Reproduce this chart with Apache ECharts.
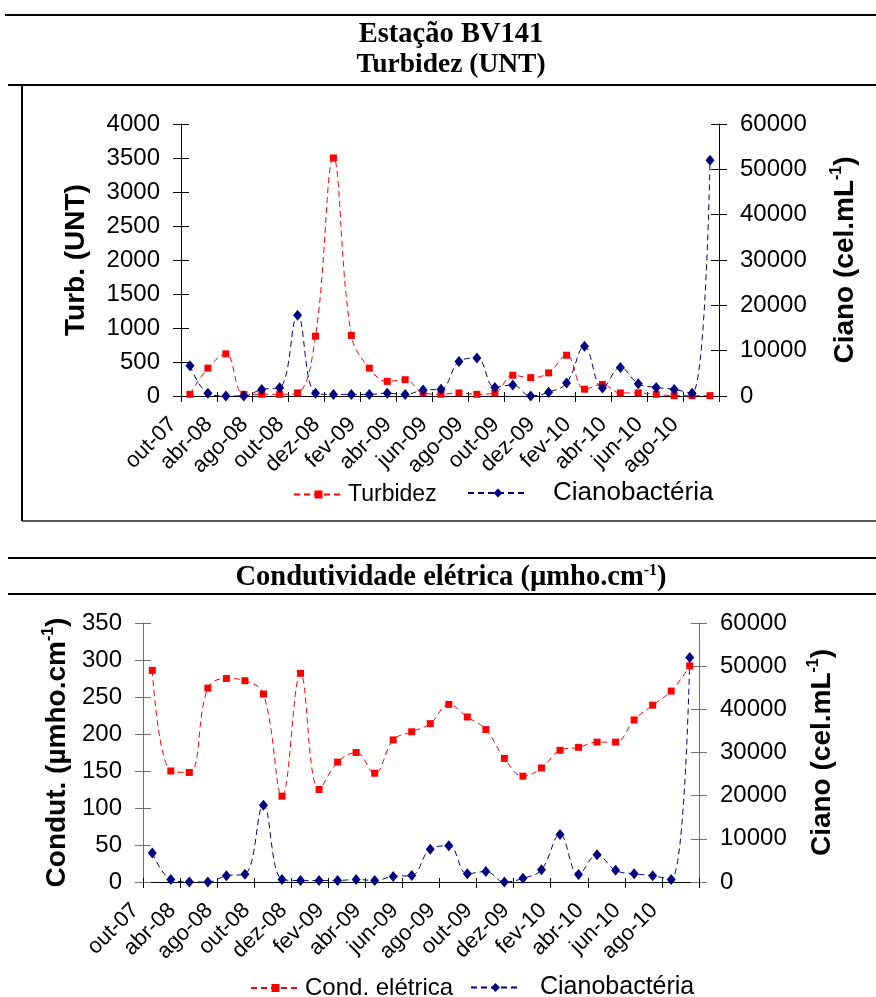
<!DOCTYPE html>
<html>
<head>
<meta charset="utf-8">
<script src="https://cdn.jsdelivr.net/npm/echarts@6/dist/echarts.min.js"></script>
<style>
  html, body { margin: 0; padding: 0; background: #fff; }
  #chart { width: 876px; height: 997px; }
</style>
</head>
<body>
<div id="chart"></div>
<script>
// Sampling months (monthly from out-08 onwards)
const categories = ['out-07','fev-08','abr-08','jun-08','ago-08','set-08','out-08','nov-08','dez-08','jan-09',
  'fev-09','mar-09','abr-09','mai-09','jun-09','jul-09','ago-09','set-09','out-09','nov-09',
  'dez-09','jan-10','fev-10','mar-10','abr-10','mai-10','jun-10','jul-10','ago-10','set-10'];

// Turbidez (UNT)
const turbidez = [25, 410, 620, 25, 25, 25, 45, 880, 3500, 890, 410, 215, 240, 45, 25, 45, 25, 45, 305, 270,
  340, 600, 100, 170, 45, 45, 25, 5, 5, 5];

// Condutividade elétrica (µmho.cm-1)
const condutividade = [286, 150, 148, 262, 275, 272, 254, 116, 282, 125, 162, 175, 147, 192, 203, 214, 240, 223, 206, 167,
  143, 154, 178, 182, 189, 189, 219, 239, 258, 292];

// Cianobactérias (cel.mL-1)
const cianobacteria = [6700, 600, 0, 0, 1450, 1800, 17800, 600, 350, 350, 350, 600, 350, 1300, 1500, 7600, 8400, 1900, 2450, 0,
  850, 2850, 11000, 1750, 6300, 2700, 1900, 1450, 600, 52000];

const SANS = '"Liberation Sans", Arial, sans-serif';
const SERIF = '"Liberation Serif", "Times New Roman", serif';
const RED = '#FF0000';
const NAVY = '#000080';

const chart = echarts.init(document.getElementById('chart'), null, { renderer: 'canvas' });

const plain = v => String(v);

function xAxes(gridIndex, lineColor) {
  const base = {
    type: 'category', gridIndex, data: categories, position: 'bottom', boundaryGap: true,
    splitLine: { show: false }
  };
  return [
    Object.assign({}, base, {
      axisLine: { show: true, lineStyle: { color: lineColor, width: 1 } },
      axisTick: { show: true, interval: 1, length: 6, lineStyle: { color: '#000' } },
      axisLabel: { interval: 1, rotate: 45, margin: 8, padding: [0, 24, 0, 0],
        fontSize: 22, fontFamily: SANS, color: '#000' }
    }),
    Object.assign({}, base, {
      axisLine: { show: false },
      axisTick: { show: true, inside: true, interval: 1, length: 4, lineStyle: { color: '#000' } },
      axisLabel: { show: false }
    })
  ];
}

function richName(main, sup) {
  return '{b|' + main + '}{s|' + sup + '}{b|)}';
}
const nameStyle = {
  fontFamily: SANS, fontWeight: 'bold', fontSize: 28, color: '#000',
  rich: {
    b: { fontFamily: SANS, fontWeight: 'bold', fontSize: 28, color: '#000', lineHeight: 32 },
    s: { fontFamily: SANS, fontWeight: 'bold', fontSize: 16, color: '#000', verticalAlign: 'top', lineHeight: 32 }
  }
};

function yAxes(gridIndex, position, max, interval, name, nameGap, lineColor, richLabel) {
  const base = {
    type: 'value', gridIndex, position, min: 0, max, interval,
    splitLine: { show: false }
  };
  return [
    Object.assign({}, base, {
      name, nameLocation: 'middle', nameGap,
      nameTextStyle: richLabel ? nameStyle : { fontFamily: SANS, fontWeight: 'bold', fontSize: 28, color: '#000' },
      axisLine: { show: true, lineStyle: { color: lineColor, width: 1 } },
      axisTick: { show: true, length: 8, lineStyle: { color: lineColor } },
      axisLabel: { margin: 21, fontSize: 24, fontFamily: SANS, color: '#000', formatter: plain }
    }),
    Object.assign({}, base, {
      axisLine: { show: false },
      axisTick: { show: true, inside: true, length: 8, lineStyle: { color: lineColor } },
      axisLabel: { show: false }
    })
  ];
}

const topX = xAxes(0, '#000');
const botX = xAxes(1, '#000');
const topL = yAxes(0, 'left', 4000, 500, 'Turb. (UNT)', 91, '#000', false);
const topR = yAxes(0, 'right', 60000, 10000, richName('Ciano (cel.mL', '-1'), 110, '#000', true);
const botL = yAxes(1, 'left', 350, 50, richName('Condut. (µmho.cm', '-1'), 68, '#707070', true);
const botR = yAxes(1, 'right', 60000, 10000, richName('Ciano (cel.mL', '-1'), 107, '#707070', true);

// axis index order: x: [top, topTicks, bottom, bottomTicks]; y: [topL, topR, topL', topR', botL, botR, botL', botR']
const xAxis = [topX[0], topX[1], botX[0], botX[1]];
const yAxis = [topL[0], topR[0], topL[1], topR[1], botL[0], botR[0], botL[1], botR[1]];

function lineSeries(name, data, xi, yi, color, symbol, size) {
  return {
    name, type: 'line', data, xAxisIndex: xi, yAxisIndex: yi,
    smooth: 0.4, symbol, symbolSize: size,
    lineStyle: { color, width: 1, type: [6, 4] },
    itemStyle: { color },
    emphasis: { disabled: true }
  };
}

const frameLine = (x1, y1, x2, y2, w, c) => ({
  type: 'line', shape: { x1, y1, x2, y2 }, style: { stroke: c || '#000', lineWidth: w }, silent: true
});

const titleText = (text, y, size, rich) => ({
  type: 'text', x: 451, y, silent: true,
  style: {
    text, align: 'center', verticalAlign: 'middle',
    font: 'bold ' + size + 'px ' + SERIF, fill: '#000',
    rich: rich || {}
  }
});

const option = {
  animation: false,
  backgroundColor: '#fff',
  grid: [
    { left: 181, top: 124, width: 538, height: 272 },
    { left: 143, top: 623, width: 556, height: 259 }
  ],
  xAxis,
  yAxis,
  legend: [
    { data: ['Turbidez'], left: 288, top: 478, itemWidth: 49, itemHeight: 10,
      textStyle: { fontSize: 23, fontFamily: SANS, color: '#000', padding: [0, 0, 0, 0] } },
    { data: ['Cianobactéria'], left: 462, top: 475, itemWidth: 60, itemHeight: 11,
      textStyle: { fontSize: 26, fontFamily: SANS, color: '#000', padding: [0, 0, 0, 20] } },
    { data: ['Cond. elétrica'], left: 245, top: 971, itemWidth: 49, itemHeight: 10,
      textStyle: { fontSize: 24, fontFamily: SANS, color: '#000', padding: [0, 0, 0, 0] } },
    { data: ['Cianobactéria'], left: 465, top: 970, itemWidth: 49, itemHeight: 11,
      textStyle: { fontSize: 25, fontFamily: SANS, color: '#000', padding: [0, 0, 0, 15] } }
  ],
  series: [
    lineSeries('Turbidez', turbidez, 0, 0, RED, 'rect', 7),
    lineSeries('Cianobactéria', cianobacteria, 0, 1, NAVY, 'diamond', [9, 11]),
    lineSeries('Cond. elétrica', condutividade, 2, 4, RED, 'rect', 7),
    lineSeries('Cianobactéria', cianobacteria, 2, 5, NAVY, 'diamond', [9, 11])
  ],
  graphic: [
    frameLine(5, 15, 876, 15, 2),
    titleText('Estação BV141', 35, 28.5),
    titleText('Turbidez (UNT)', 65, 27.5),
    frameLine(8, 85, 876, 85, 2),
    frameLine(22, 85, 22, 521, 2),
    frameLine(22, 521, 876, 521, 1.5, '#222'),
    frameLine(8, 558, 876, 558, 2),
    titleText('{t|Condutividade elétrica (µmho.cm}{u|-1}{t|)}', 578, 28.5, {
      t: { font: 'bold 28.5px ' + SERIF, fill: '#000', lineHeight: 30 },
      u: { font: 'bold 16px ' + SERIF, fill: '#000', verticalAlign: 'top', lineHeight: 30 }
    }),
    frameLine(8, 594, 876, 594, 2)
  ]
};

chart.setOption(option);
</script>
</body>
</html>
